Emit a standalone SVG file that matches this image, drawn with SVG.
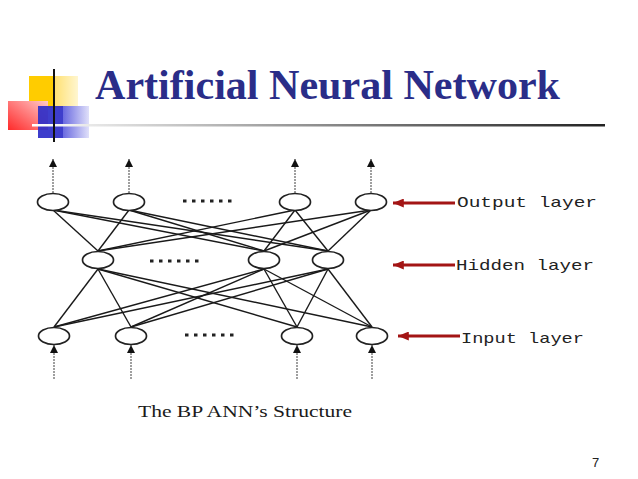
<svg xmlns="http://www.w3.org/2000/svg" width="638" height="479" viewBox="0 0 638 479">
<style>
.node{fill:#fff;stroke:#222;stroke-width:1.7}
.conn{stroke:#1a1a1a;stroke-width:1.4;fill:none}
.io{stroke:#888;stroke-width:1.6;stroke-dasharray:2 1;fill:none}
.red{stroke:#a31515;stroke-width:3;fill:none}
.dots{stroke:#222;stroke-width:3;stroke-dasharray:3.5 5.5}
.lbl{font-family:"Liberation Mono",monospace;font-size:15px;fill:#222}
</style>
<defs>
<marker id="ah" viewBox="0 0 10 10" refX="10" refY="5" markerWidth="8" markerHeight="8" markerUnits="userSpaceOnUse" orient="auto"><path d="M0,0 L10,5 L0,10 z" fill="#111"/></marker>
<marker id="rh" viewBox="0 0 12 10" refX="12" refY="5" markerWidth="13" markerHeight="9" markerUnits="userSpaceOnUse" orient="auto"><path d="M0,0 L12,5 L0,10 z" fill="#a31515"/></marker>
<linearGradient id="gY" x1="0" y1="0" x2="1" y2="0"><stop offset="0" stop-color="#ffe070"/><stop offset="1" stop-color="#fff6d0"/></linearGradient>
<linearGradient id="gR" x1="0" y1="1" x2="1" y2="0"><stop offset="0" stop-color="#ff2a2a"/><stop offset="1" stop-color="#ffc8c8"/></linearGradient>
<linearGradient id="gB" x1="0" y1="0" x2="1" y2="0"><stop offset="0" stop-color="#6a6ae0"/><stop offset="1" stop-color="#e0e0fa"/></linearGradient>
<linearGradient id="gL" x1="0" y1="0" x2="1" y2="0"><stop offset="0" stop-color="#ffffff"/><stop offset="0.15" stop-color="#dddddd"/><stop offset="0.6" stop-color="#777777"/><stop offset="1" stop-color="#222222"/></linearGradient>
</defs>
<rect width="638" height="479" fill="#fff"/>
<g id="decor">
<rect x="29" y="76" width="25" height="32" fill="#ffcc00"/>
<rect x="54" y="76" width="24" height="32" fill="url(#gY)"/>
<rect x="8" y="101" width="40" height="29" fill="url(#gR)"/>
<rect x="38" y="106" width="25" height="32" fill="#2e2ec8" opacity="0.92"/>
<rect x="63" y="106" width="26" height="32" fill="url(#gB)"/>
<rect x="32" y="124" width="573" height="2.5" fill="url(#gL)"/>
<line x1="54" y1="69" x2="54" y2="142" stroke="#111" stroke-width="2"/>
</g>
<text id="title" x="95" y="99" font-family="Liberation Serif, serif" font-weight="bold" font-size="42" fill="#2a2d88" textLength="465" lengthAdjust="spacingAndGlyphs">Artificial Neural Network</text>
<g id="connectors">
<line class="conn" x1="53" y1="210" x2="98" y2="251"/>
<line class="conn" x1="53" y1="210" x2="264" y2="251"/>
<line class="conn" x1="53" y1="210" x2="328" y2="251"/>
<line class="conn" x1="129" y1="210" x2="98" y2="251"/>
<line class="conn" x1="129" y1="210" x2="264" y2="251"/>
<line class="conn" x1="129" y1="210" x2="328" y2="251"/>
<line class="conn" x1="295" y1="210" x2="98" y2="251"/>
<line class="conn" x1="295" y1="210" x2="264" y2="251"/>
<line class="conn" x1="295" y1="210" x2="328" y2="251"/>
<line class="conn" x1="371" y1="210" x2="98" y2="251"/>
<line class="conn" x1="371" y1="210" x2="264" y2="251"/>
<line class="conn" x1="371" y1="210" x2="328" y2="251"/>
<line class="conn" x1="98" y1="269" x2="54" y2="327"/>
<line class="conn" x1="98" y1="269" x2="131" y2="327"/>
<line class="conn" x1="98" y1="269" x2="297" y2="327"/>
<line class="conn" x1="98" y1="269" x2="372" y2="327"/>
<line class="conn" x1="264" y1="269" x2="54" y2="327"/>
<line class="conn" x1="264" y1="269" x2="131" y2="327"/>
<line class="conn" x1="264" y1="269" x2="297" y2="327"/>
<line class="conn" x1="264" y1="269" x2="372" y2="327"/>
<line class="conn" x1="328" y1="269" x2="54" y2="327"/>
<line class="conn" x1="328" y1="269" x2="131" y2="327"/>
<line class="conn" x1="328" y1="269" x2="297" y2="327"/>
<line class="conn" x1="328" y1="269" x2="372" y2="327"/>
<line class="io" x1="53" y1="193" x2="53" y2="159" marker-end="url(#ah)"/>
<line class="io" x1="129" y1="193" x2="129" y2="159" marker-end="url(#ah)"/>
<line class="io" x1="295" y1="193" x2="295" y2="159" marker-end="url(#ah)"/>
<line class="io" x1="371" y1="193" x2="371" y2="159" marker-end="url(#ah)"/>
<line class="io" x1="54" y1="379" x2="54" y2="345" marker-end="url(#ah)"/>
<line class="io" x1="131" y1="379" x2="131" y2="345" marker-end="url(#ah)"/>
<line class="io" x1="297" y1="379" x2="297" y2="345" marker-end="url(#ah)"/>
<line class="io" x1="372" y1="379" x2="372" y2="345" marker-end="url(#ah)"/>
<line class="red" x1="455" y1="203" x2="393" y2="203" marker-end="url(#rh)"/>
<line class="red" x1="455" y1="265" x2="393" y2="265" marker-end="url(#rh)"/>
<line class="red" x1="460" y1="336" x2="398" y2="336" marker-end="url(#rh)"/>
</g>
<g id="output-layer">
<ellipse class="node" cx="53" cy="202" rx="15.5" ry="8.5"/>
<ellipse class="node" cx="129" cy="202" rx="15.5" ry="8.5"/>
<line class="dots" x1="183" y1="201" x2="237" y2="201"/>
<ellipse class="node" cx="295" cy="202" rx="15.5" ry="8.5"/>
<ellipse class="node" cx="371" cy="202" rx="15.5" ry="8.5"/>
</g>
<g id="hidden-layer">
<ellipse class="node" cx="98" cy="260" rx="15.5" ry="8.5"/>
<line class="dots" x1="150" y1="261" x2="204" y2="261"/>
<ellipse class="node" cx="264" cy="260" rx="15.5" ry="8.5"/>
<ellipse class="node" cx="328" cy="260" rx="15.5" ry="8.5"/>
</g>
<g id="input-layer">
<ellipse class="node" cx="54" cy="336" rx="15.5" ry="8.5"/>
<ellipse class="node" cx="131" cy="336" rx="15.5" ry="8.5"/>
<line class="dots" x1="185" y1="335" x2="239" y2="335"/>
<ellipse class="node" cx="297" cy="336" rx="15.5" ry="8.5"/>
<ellipse class="node" cx="372" cy="336" rx="15.5" ry="8.5"/>
</g>
<g id="labels">
<text class="lbl" x="457" y="207" textLength="140" lengthAdjust="spacingAndGlyphs">Output layer</text>
<text class="lbl" x="456" y="270" textLength="138" lengthAdjust="spacingAndGlyphs">Hidden layer</text>
<text class="lbl" x="461" y="343" textLength="123" lengthAdjust="spacingAndGlyphs">Input layer</text>
</g>
<text id="caption" x="138" y="417" font-family="Liberation Serif, serif" font-size="17" fill="#1a1a1a" textLength="214" lengthAdjust="spacingAndGlyphs">The BP ANN’s Structure</text>
<text id="page" x="592" y="467" font-family="Liberation Sans, sans-serif" font-size="13" fill="#222">7</text>
</svg>
